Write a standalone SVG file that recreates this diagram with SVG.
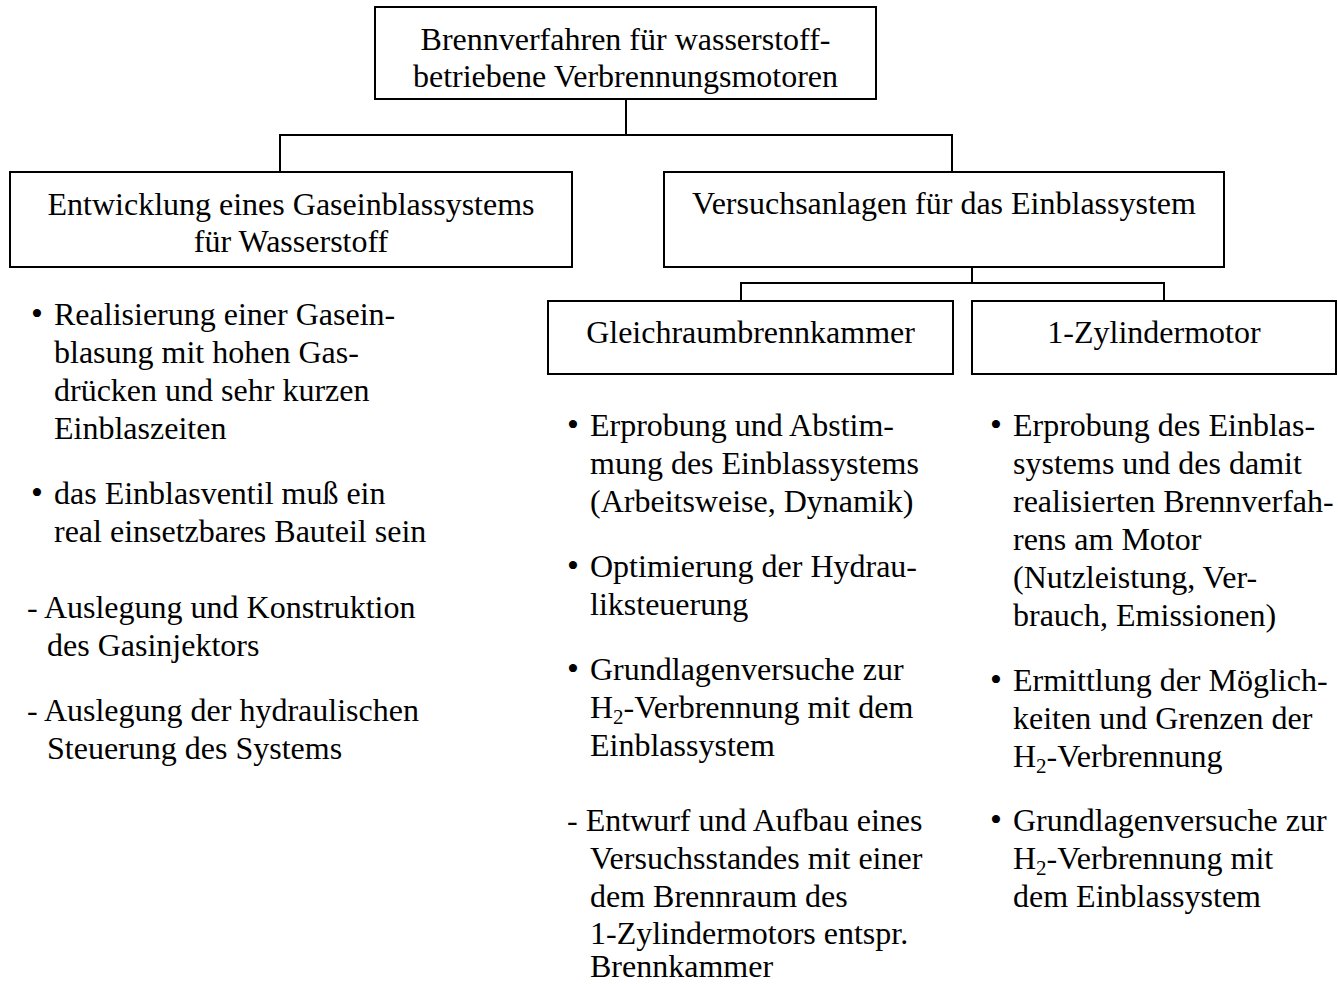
<svg xmlns="http://www.w3.org/2000/svg" width="1338" height="984" viewBox="0 0 1338 984">
<style>
.box{fill:#fff;stroke:#000;stroke-width:2}
.ln{fill:none;stroke:#000;stroke-width:2}
text{font-family:"Liberation Serif","Times New Roman",serif;font-size:32px;fill:#000}
.c{text-anchor:middle}
.sub{font-size:21px;baseline-shift:-6px}
.b{font-size:34px}
</style>
<rect width="1338" height="984" fill="#fff"/>
<g id="connectors">
<polyline class="ln" points="626,99 626,135"/>
<polyline class="ln" points="280,172 280,135 952,135 952,172"/>
<polyline class="ln" points="972,263 972,283"/>
<polyline class="ln" points="741,301 741,283 1164,283 1164,301"/>
</g>
<g id="root">
<rect class="box" x="375" y="7" width="501" height="92"/>
<text class="c" x="625.5" y="50">Brennverfahren für wasserstoff-</text>
<text class="c" x="625.5" y="87">betriebene Verbrennungsmotoren</text>
</g>
<g id="entwicklung">
<rect class="box" x="10" y="172" width="562" height="95"/>
<text class="c" x="291" y="215">Entwicklung eines Gaseinblassystems</text>
<text class="c" x="291" y="252">für Wasserstoff</text>
</g>
<g id="versuchsanlagen">
<rect class="box" x="664" y="172" width="560" height="95"/>
<text class="c" x="944" y="214">Versuchsanlagen für das Einblassystem</text>
</g>
<g id="gleichraum">
<rect class="box" x="548" y="301" width="405" height="73"/>
<text class="c" x="750.5" y="343">Gleichraumbrennkammer</text>
</g>
<g id="zylinder">
<rect class="box" x="972" y="301" width="364" height="73"/>
<text class="c" x="1154" y="343">1-Zylindermotor</text>
</g>
<g id="list-left">
<text class="b" x="31" y="325">•</text>
<text x="54" y="325">Realisierung einer Gasein-</text>
<text x="54" y="363">blasung mit hohen Gas-</text>
<text x="54" y="401">drücken und sehr kurzen</text>
<text x="54" y="439">Einblaszeiten</text>
<text class="b" x="31" y="504">•</text>
<text x="54" y="504">das Einblasventil muß ein</text>
<text x="54" y="542">real einsetzbares Bauteil sein</text>
<text x="27" y="618">- Auslegung und Konstruktion</text>
<text x="47" y="656">des Gasinjektors</text>
<text x="27" y="721">- Auslegung der hydraulischen</text>
<text x="47" y="759">Steuerung des Systems</text>
</g>
<g id="list-middle">
<text class="b" x="567" y="436">•</text>
<text x="590" y="436">Erprobung und Abstim-</text>
<text x="590" y="474">mung des Einblassystems</text>
<text x="590" y="512">(Arbeitsweise, Dynamik)</text>
<text class="b" x="567" y="577">•</text>
<text x="590" y="577">Optimierung der Hydrau-</text>
<text x="590" y="615">liksteuerung</text>
<text class="b" x="567" y="680">•</text>
<text x="590" y="680">Grundlagenversuche zur</text>
<text x="590" y="718">H<tspan class="sub">2</tspan>-Verbrennung mit dem</text>
<text x="590" y="756">Einblassystem</text>
<text x="567" y="831">- Entwurf und Aufbau eines</text>
<text x="590" y="869">Versuchsstandes mit einer</text>
<text x="590" y="907">dem Brennraum des</text>
<text x="590" y="944">1-Zylindermotors entspr.</text>
<text x="590" y="977">Brennkammer</text>
</g>
<g id="list-right">
<text class="b" x="990" y="436">•</text>
<text x="1013" y="436">Erprobung des Einblas-</text>
<text x="1013" y="474">systems und des damit</text>
<text x="1013" y="512">realisierten Brennverfah-</text>
<text x="1013" y="550">rens am Motor</text>
<text x="1013" y="588">(Nutzleistung, Ver-</text>
<text x="1013" y="626">brauch, Emissionen)</text>
<text class="b" x="990" y="691">•</text>
<text x="1013" y="691">Ermittlung der Möglich-</text>
<text x="1013" y="729">keiten und Grenzen der</text>
<text x="1013" y="767">H<tspan class="sub">2</tspan>-Verbrennung</text>
<text class="b" x="990" y="831">•</text>
<text x="1013" y="831">Grundlagenversuche zur</text>
<text x="1013" y="869">H<tspan class="sub">2</tspan>-Verbrennung mit</text>
<text x="1013" y="907">dem Einblassystem</text>
</g>
</svg>
